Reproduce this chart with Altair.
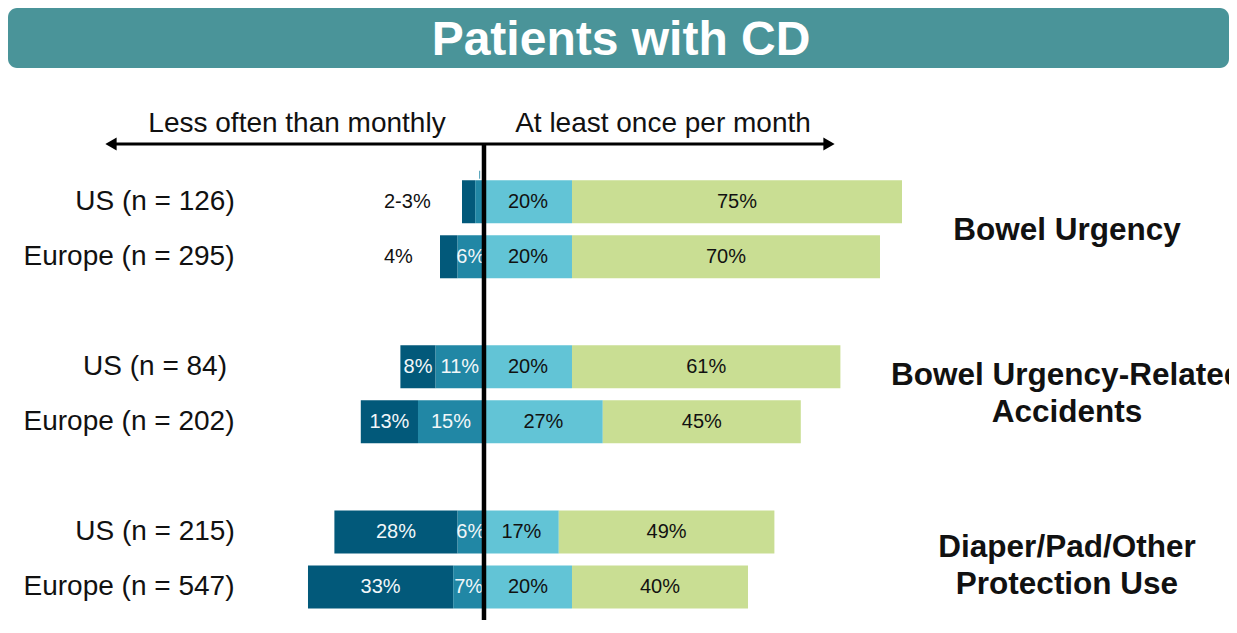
import altair as alt
import pandas as pd

# ---------------- data ----------------
groups = ["Bowel Urgency", "Bowel Urgency-Related\nAccidents", "Diaper/Pad/Other\nProtection Use"]
row_labels = ["US (n = 126)", "Europe (n = 295)", "US (n = 84)", "Europe (n = 202)",
              "US (n = 215)", "Europe (n = 547)"]
row_region = ["US", "Europe", "US", "Europe", "US", "Europe"]
row_group = [0, 0, 1, 1, 2, 2]

less_far = [3, 4, 8, 13, 28, 33]        # darkest segment (left, outer)
less_near = [2, 6, 11, 15, 6, 7]        # mid blue segment (left, inner)
month_near = [20, 20, 20, 27, 17, 20]   # light blue segment (right, inner)
month_far = [75, 70, 61, 45, 49, 40]    # green segment (right, outer)

less_far_text = ["2-3%", "4%", "8%", "13%", "28%", "33%"]
less_near_text = ["", "6%", "11%", "15%", "6%", "7%"]
less_far_outside = [True, True, False, False, False, False]

header_left = "Less often than monthly"
header_right = "At least once per month"
title_text = "Patients with CD"

series = ["less_far", "less_near", "month_near", "month_far"]
series_colors = ["#02597A", "#2187A5", "#62C4D6", "#C9DE93"]
label_colors = {"less_far": "#F2F7F9", "less_near": "#F2F7F9",
                "month_near": "#111111", "month_far": "#111111"}

FONT = "Liberation Sans"
W, H = 1221, 612

# ---------------- derived tables ----------------
seg_rows, lab_rows, out_rows, rows = [], [], [], []
for i in range(len(row_labels)):
    slot = row_group[i] * 3 + (0 if row_region[i] == "US" else 1)
    rows.append({"label": row_labels[i], "region": row_region[i], "slot": slot})
    segs = [
        ("less_far", -(less_near[i] + less_far[i]), -less_near[i], less_far_text[i]),
        ("less_near", -less_near[i], 0, less_near_text[i]),
        ("month_near", 0, month_near[i], f"{month_near[i]}%"),
        ("month_far", month_near[i], month_near[i] + month_far[i], f"{month_far[i]}%"),
    ]
    for name, x0, x1, txt in segs:
        seg_rows.append({"series": name, "x0": x0, "x1": x1, "slot": slot})
        if name == "less_far" and less_far_outside[i]:
            out_rows.append({"text": txt, "slot": slot})
        elif txt:
            lab_rows.append({"text": txt, "xm": (x0 + x1) / 2, "slot": slot,
                             "tcol": label_colors[name]})

seg_df = pd.DataFrame(seg_rows)
lab_df = pd.DataFrame(lab_rows)
out_df = pd.DataFrame(out_rows)
row_df = pd.DataFrame(rows)
lead_df = seg_df[(seg_df["series"] == "less_near") & (seg_df["slot"] == 0)].assign(
    xm=lambda d: (d["x0"] + d["x1"]) / 2)
one = pd.DataFrame({"k": [0]})

xscale = alt.Scale(domain=[-108.18, 169.32], nice=False, zero=False)
yscale = alt.Scale(domain=[-3.43, 7.51], reverse=True, nice=False, zero=False)

X = lambda f: alt.X(f, scale=xscale, axis=None)
Y = lambda f: alt.Y(f, scale=yscale, axis=None)

banner = alt.Chart(one).mark_rect(color="#4A9499", cornerRadius=9).encode(
    x=alt.value(0), x2=alt.value(W), y=alt.value(0), y2=alt.value(60))
title = alt.Chart(one).mark_text(text=title_text, font=FONT, fontSize=48, fontWeight="bold",
                                 color="white", align="center", baseline="alphabetic").encode(
    x=alt.value(613), y=alt.value(47))

hdr_l = alt.Chart(one).mark_text(text=header_left, font=FONT, fontSize=28, color="#111",
                                 align="center", baseline="alphabetic").encode(
    x=alt.value(289), y=alt.value(124))
hdr_r = alt.Chart(one).mark_text(text=header_right, font=FONT, fontSize=28, color="#111",
                                 align="center", baseline="alphabetic").encode(
    x=alt.value(655), y=alt.value(124))

arrow_line = alt.Chart(one).mark_rule(color="black", strokeWidth=3).encode(
    x=alt.value(103), x2=alt.value(821), y=alt.value(136))
arrow_l = alt.Chart(one).mark_point(shape="triangle-left", filled=True, color="black",
                                    opacity=1, size=170).encode(x=alt.value(103), y=alt.value(136))
arrow_r = alt.Chart(one).mark_point(shape="triangle-right", filled=True, color="black",
                                    opacity=1, size=170).encode(x=alt.value(821), y=alt.value(136))

bars = alt.Chart(seg_df).mark_bar(orient="horizontal", size=43).encode(
    x=X("x0:Q"), x2="x1:Q", y=Y("slot:Q"),
    color=alt.Color("series:N", scale=alt.Scale(domain=series, range=series_colors), legend=None))

labels = alt.Chart(lab_df).mark_text(font=FONT, fontSize=20, align="center", baseline="middle").encode(
    x=X("xm:Q"), y=Y("slot:Q"), text="text:N", color=alt.Color("tcol:N", scale=None))

out_labels = alt.Chart(out_df).mark_text(font=FONT, fontSize=20, align="left", baseline="middle",
                                         color="#111").encode(
    x=alt.value(376), y=Y("slot:Q"), text="text:N")

leader = alt.Chart(lead_df).mark_rule(color="#5FA8BE", strokeWidth=1.2, yOffset=-31, y2Offset=-23).encode(
    x=X("xm:Q"), y=Y("slot:Q"), y2="slot:Q")

zero_line = alt.Chart(one).mark_rule(color="black", strokeWidth=4.5).encode(
    x=alt.datum(0), y=alt.value(136), y2=alt.value(H))

cat_us = alt.Chart(row_df[row_df["region"] == "US"]).mark_text(
    font=FONT, fontSize=28, align="center", baseline="middle", color="#111").encode(
    x=alt.value(147), y=Y("slot:Q"), text="label:N")
cat_eu = alt.Chart(row_df[row_df["region"] == "Europe"]).mark_text(
    font=FONT, fontSize=28, align="center", baseline="middle", color="#111").encode(
    x=alt.value(121), y=Y("slot:Q"), text="label:N")

# group labels, one layer per text line
grp_layers = []
grp_adjust = [2, 0, 7]
LINE_H = 37
for gi, g in enumerate(groups):
    lines = g.split("\n")
    n = len(lines)
    for li, line in enumerate(lines):
        d = pd.DataFrame({"text": [line], "slot": [gi * 3 + 0.5]})
        dy = (li - (n - 1) / 2) * LINE_H + grp_adjust[gi]
        grp_layers.append(
            alt.Chart(d).mark_text(font=FONT, fontSize=31.5, fontWeight="bold", align="center",
                                   baseline="middle", color="#111", dy=dy).encode(
                x=alt.value(1059), y=Y("slot:Q"), text="text:N"))

chart = alt.layer(
    banner, title, hdr_l, hdr_r, arrow_line, arrow_l, arrow_r,
    bars, leader, labels, out_labels, zero_line, cat_us, cat_eu, *grp_layers
).properties(
    width=W, height=H, padding=0,
    autosize=alt.AutoSizeParams(type="none")
).configure_view(strokeWidth=0)

chart.save("out.html", embed_options={"renderer": "svg", "actions": False})
